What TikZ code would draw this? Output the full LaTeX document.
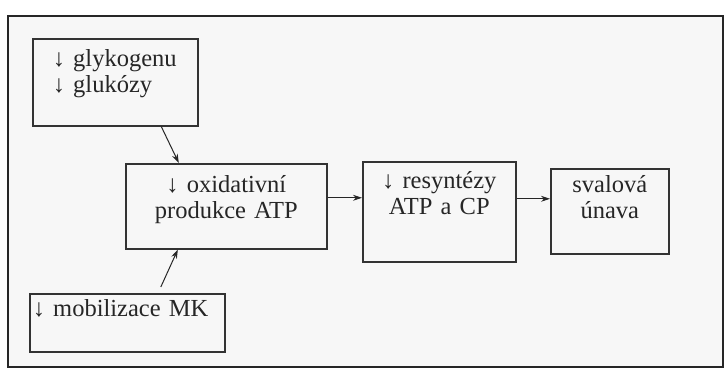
\documentclass[tikz,border=0pt]{standalone}
\usepackage{fontspec}
\setmainfont{Liberation Serif}
\usetikzlibrary{arrows.meta}
\begin{document}
\begin{tikzpicture}[
  x=0.5pt, y=-0.5pt,
  causebox/.style={draw=black!80, line width=0.8pt, inner ysep=0pt, anchor=north west, font=\fontsize{12.25}{13}\selectfont, text=black!85, execute at begin node={\hyphenpenalty=10000\hbadness=10000\hfuzz=20pt}},
  frame/.style={draw=black!85, line width=1pt, fill=black!3},
  arrow/.style={-{Stealth[length=4.5pt,width=3pt]}, line width=0.5pt, draw=black!85}
]
\useasboundingbox[fill=white] (0,0) rectangle (728,369);
\draw[frame] (8,16) rectangle (723,367);

\node[causebox, align=left, inner xsep=10pt, text width=62.5pt, text height=14pt, text depth=29.5pt] (glyk) at (32,38) {↓~glykogenu\\↓~glukózy};
\node[causebox, align=center, inner xsep=0pt, text width=100.5pt, text height=14.5pt, text depth=28pt] (oxid) at (125,163) {↓~oxidativní\\produkce ATP};
\node[causebox, align=left, inner xsep=1.5pt, text width=94.5pt, text height=11.5pt, text depth=17.5pt] (mobil) at (29,293) {↓~mobilizace MK};
\node[causebox, align=center, inner xsep=0pt, text width=76.5pt, text height=13.5pt, text depth=36.5pt] (resyn) at (362,161) {↓~resyntézy\\ATP a CP};
\node[causebox, align=center, inner xsep=0pt, text width=59pt, text height=12pt, text depth=30.5pt] (unava) at (550,168) {svalová\\únava};

\draw[arrow] ([xshift=23pt]glyk.south) -- ([xshift=-23.75pt]oxid.north);
\draw[arrow] ([shift={(16.75pt,3pt)}]mobil.north) -- ([xshift=-24.25pt]oxid.south);
\draw[arrow] ([yshift=4.25pt]oxid.east) -- ([yshift=4.25pt]oxid.east -| resyn.west);
\draw[arrow] ([yshift=6.5pt]resyn.east) -- ([yshift=6.5pt]resyn.east -| unava.west);
\end{tikzpicture}
\end{document}
